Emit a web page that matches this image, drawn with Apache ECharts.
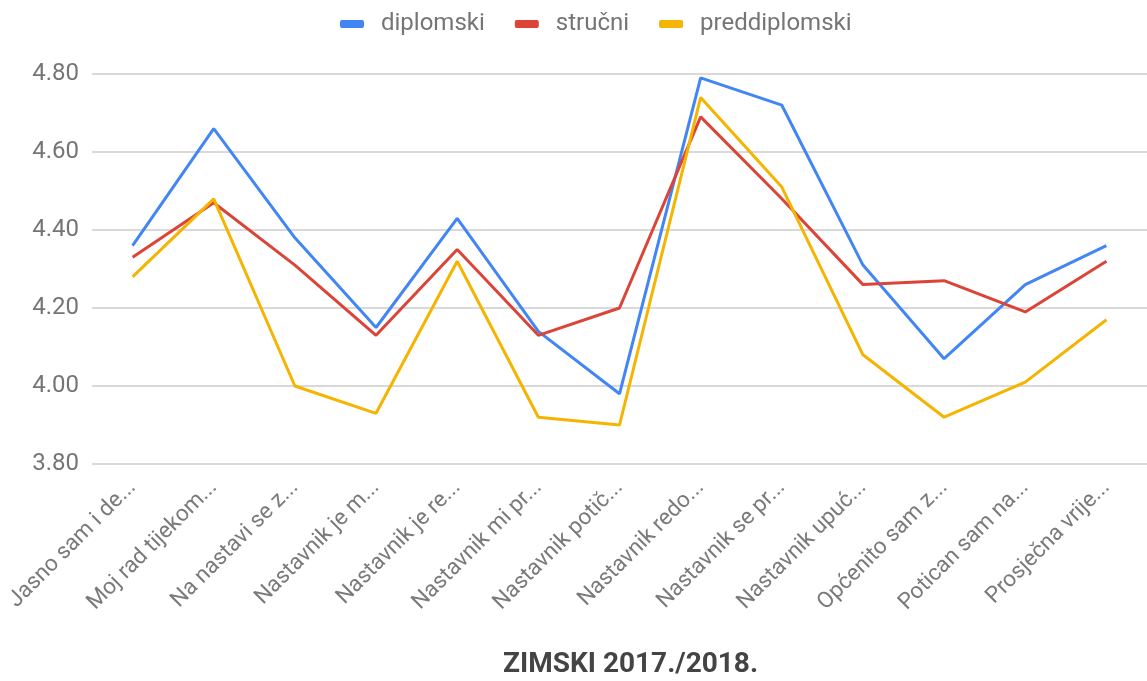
<!DOCTYPE html>
<html>
<head>
<meta charset="utf-8">
<script src="https://cdn.jsdelivr.net/npm/echarts@6/dist/echarts.min.js"></script>
<style>
html,body{margin:0;padding:0;background:#fff;}
#chart{width:1147px;height:681px;}
</style>
</head>
<body>
<div id="chart"></div>
<script>
const categories = [
  "Jasno sam i de...", "Moj rad tijekom...", "Na nastavi se z...", "Nastavnik je m...",
  "Nastavnik je re...", "Nastavnik mi pr...", "Nastavnik potič...", "Nastavnik redo...",
  "Nastavnik se pr...", "Nastavnik upuć...", "Općenito sam z...", "Potican sam na...",
  "Prosječna vrije..."
];
const diplomski     = [4.36, 4.66, 4.38, 4.15, 4.43, 4.14, 3.98, 4.79, 4.72, 4.31, 4.07, 4.26, 4.36];
const strucni       = [4.33, 4.47, 4.31, 4.13, 4.35, 4.13, 4.20, 4.69, 4.48, 4.26, 4.27, 4.19, 4.32];
const preddiplomski = [4.28, 4.48, 4.00, 3.93, 4.32, 3.92, 3.90, 4.74, 4.51, 4.08, 3.92, 4.01, 4.17];
const seriesNames = ["diplomski", "stručni", "preddiplomski"];
const chartTitle = "ZIMSKI 2017./2018.";

const colors = ["#4285F4", "#DB4437", "#F4B400"];
const font = "Roboto, 'Noto Sans', sans-serif";
const chart = echarts.init(document.getElementById('chart'));
const mk = (name, data, i) => ({
  name, type: 'line', data, showSymbol: false, symbol: 'none',
  lineStyle: { width: 3, color: colors[i] }, itemStyle: { color: colors[i] },
  emphasis: { disabled: true }, animation: false
});
chart.setOption({
  animation: false,
  textStyle: { fontFamily: font },
  legend: {
    left: 340, top: 12, padding: 0,
    icon: 'roundRect', itemWidth: 24, itemHeight: 8, itemGap: 30,
    textStyle: { fontSize: 24, color: '#757575', fontFamily: font, padding: [0, 0, 0, 12] },
    data: seriesNames
  },
  graphic: [{
    type: 'text', left: 503, top: 651,
    style: { text: chartTitle, fontSize: 28, fontWeight: 'bold', fill: '#444', fontFamily: font }
  }],
  grid: { left: 92, top: 74, height: 390, width: 1066 },
  xAxis: {
    type: 'category', data: categories, boundaryGap: true,
    axisLine: { show: false }, axisTick: { show: false },
    axisLabel: { rotate: 45, interval: 0, fontSize: 22.5, color: '#7a7a7a', margin: 20, fontFamily: font }
  },
  yAxis: {
    type: 'value', min: 3.8, max: 4.8, interval: 0.2,
    axisLine: { show: false }, axisTick: { show: false },
    axisLabel: { fontSize: 24, color: '#757575', margin: 13, fontFamily: font,
      formatter: v => v.toFixed(2) },
    splitLine: { lineStyle: { color: '#cccccc', width: 1.5 } }
  },
  series: [
    mk(seriesNames[0], diplomski, 0),
    mk(seriesNames[1], strucni, 1),
    mk(seriesNames[2], preddiplomski, 2)
  ]
});
</script>
</body>
</html>
